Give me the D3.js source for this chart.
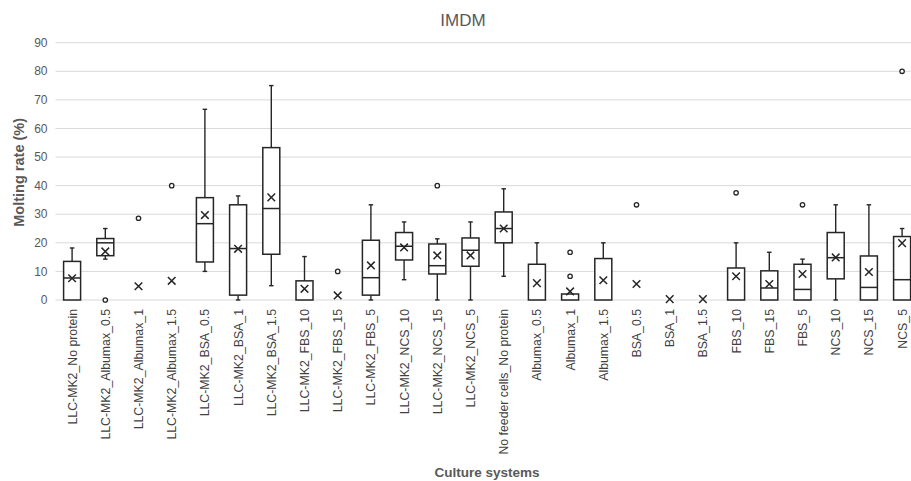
<!DOCTYPE html>
<html>
<head>
<meta charset="utf-8">
<script src="https://cdn.jsdelivr.net/npm/d3@7"></script>
<style>
  body { margin: 0; background: #fff; }
  text { font-family: "Liberation Sans", Arial, sans-serif; }
</style>
</head>
<body>
<div id="chart"></div>
<script>
// categories + box stats
var categories = [
  "LLC-MK2_No protein", "LLC-MK2_Albumax_0.5", "LLC-MK2_Albumax_1", "LLC-MK2_Albumax_1.5",
  "LLC-MK2_BSA_0.5", "LLC-MK2_BSA_1", "LLC-MK2_BSA_1.5", "LLC-MK2_FBS_10",
  "LLC-MK2_FBS_15", "LLC-MK2_FBS_5", "LLC-MK2_NCS_10", "LLC-MK2_NCS_15",
  "LLC-MK2_NCS_5", "No feeder cells_No protein", "Albumax_0.5", "Albumax_1",
  "Albumax_1.5", "BSA_0.5", "BSA_1", "BSA_1.5", "FBS_10", "FBS_15", "FBS_5",
  "NCS_10", "NCS_15", "NCS_5"
];
var whiskerLow  = [0, 14.3, 0, 0, 10, 0, 5, 0, 0, 0, 7.1, 0, 0, 8.3, 0, 0, 0, 0, 0, 0, 0, 0, 0, 0, 0, 0];
var q1          = [0, 15.5, 0, 0, 13.3, 1.7, 16, 0, 0, 1.7, 14, 9.1, 11.8, 20, 0, 0, 0, 0, 0, 0, 0, 0, 0, 7.4, 0, 0];
var median      = [7.7, 20, 0, 0, 26.7, 18, 32, 0, 0, 7.8, 18.8, 12, 17.4, 25, 0, 0, 0, 0, 0, 0, 0, 4.2, 3.7, 14.8, 4.4, 7.1];
var q3          = [13.5, 21.5, 0, 0, 35.8, 33.3, 53.3, 6.7, 0, 20.9, 23.6, 19.6, 21.7, 30.8, 12.5, 2.1, 14.5, 0, 0, 0, 11.2, 10.2, 12.5, 23.6, 15.4, 22.2];
var whiskerHigh = [18.2, 25, 0, 0, 66.7, 36.4, 75, 15.2, 0, 33.3, 27.3, 21.4, 27.3, 38.9, 20, 2.1, 20, 0, 0, 0, 20, 16.7, 14.3, 33.3, 33.3, 25];
var means       = [7.6, 17, 4.8, 6.7, 29.7, 17.9, 35.9, 3.9, 1.6, 12.1, 18.4, 15.6, 15.6, 25, 5.9, 3, 6.9, 5.6, 0.3, 0.3, 8.3, 5.6, 9.1, 14.9, 9.8, 19.9];
var outliers    = [[], [0], [28.6], [40], [], [], [], [], [10], [], [], [40], [], [], [], [8.3, 16.7], [], [33.3], [], [], [37.5], [], [33.3], [], [], [80]];
var yTicks = [0, 10, 20, 30, 40, 50, 60, 70, 80, 90];

var svgWidth = 911, svgHeight = 481;
var margin = {top: 42.7, left: 55.5, bottom: 181};
var width = 26 * 33.2;
var height = svgHeight - margin.top - margin.bottom;

var svg = d3.select("#chart").append("svg")
  .attr("width", svgWidth)
  .attr("height", svgHeight);

var x = d3.scaleBand().domain(categories).range([0, width]);
var y = d3.scaleLinear().domain([0, 90]).range([height, 0]);

var g = svg.append("g")
  .attr("transform", "translate(" + margin.left + "," + margin.top + ")");

// gridlines
g.selectAll(".grid").data(yTicks).enter().append("line")
  .attr("x1", 0).attr("x2", width)
  .attr("y1", d => y(d)).attr("y2", d => y(d))
  .attr("stroke", "#d9d9d9").attr("stroke-width", 1);

// y tick labels
g.selectAll(".ytick").data(yTicks).enter().append("text")
  .attr("x", -8).attr("y", d => y(d)).attr("dy", "0.35em")
  .attr("text-anchor", "end")
  .attr("font-size", 12).attr("fill", "#595959")
  .text(d => d);

// x labels
g.selectAll(".xlab").data(categories).enter().append("text")
  .attr("transform", d => "translate(" + (x(d) + x.bandwidth() / 2 + 4.5) + "," + (height + 9) + ") rotate(-90)")
  .attr("text-anchor", "end")
  .attr("font-size", 12.3).attr("fill", "#404040")
  .text(d => d);

var boxW = 17, capW = 4.5, stroke = "#262626";
var idx = d3.range(categories.length);
var cx = i => x(categories[i]) + x.bandwidth() / 2;

var box = g.selectAll(".box").data(idx).enter().append("g");

// whiskers
box.append("line")
  .attr("x1", cx).attr("x2", cx)
  .attr("y1", i => y(q3[i])).attr("y2", i => y(whiskerHigh[i]))
  .attr("stroke", stroke).attr("stroke-width", 1.4);
box.append("line")
  .attr("x1", cx).attr("x2", cx)
  .attr("y1", i => y(q1[i])).attr("y2", i => y(whiskerLow[i]))
  .attr("stroke", stroke).attr("stroke-width", 1.4);
box.filter(i => whiskerHigh[i] > q3[i]).append("line")
  .attr("x1", i => cx(i) - capW / 2).attr("x2", i => cx(i) + capW / 2)
  .attr("y1", i => y(whiskerHigh[i])).attr("y2", i => y(whiskerHigh[i]))
  .attr("stroke", stroke).attr("stroke-width", 1.4);
box.filter(i => whiskerLow[i] < q1[i]).append("line")
  .attr("x1", i => cx(i) - capW / 2).attr("x2", i => cx(i) + capW / 2)
  .attr("y1", i => y(whiskerLow[i])).attr("y2", i => y(whiskerLow[i]))
  .attr("stroke", stroke).attr("stroke-width", 1.4);

// boxes
box.append("rect")
  .attr("x", i => cx(i) - boxW / 2).attr("width", boxW)
  .attr("y", i => y(q3[i])).attr("height", i => y(q1[i]) - y(q3[i]))
  .attr("fill", "#fff")
  .attr("stroke", i => q3[i] === q1[i] ? "#a6a6a6" : stroke)
  .attr("stroke-width", 1.5);

// median
box.filter(i => median[i] > q1[i] && median[i] < q3[i]).append("line")
  .attr("x1", i => cx(i) - boxW / 2).attr("x2", i => cx(i) + boxW / 2)
  .attr("y1", i => y(median[i])).attr("y2", i => y(median[i]))
  .attr("stroke", stroke).attr("stroke-width", 1.5);

// mean markers
var mk = 3.8;
box.append("path")
  .attr("d", i => {
    var px = cx(i), py = y(means[i]);
    return "M" + (px - mk) + "," + (py - mk) + "L" + (px + mk) + "," + (py + mk) +
           "M" + (px - mk) + "," + (py + mk) + "L" + (px + mk) + "," + (py - mk);
  })
  .attr("stroke", stroke).attr("stroke-width", 1.5).attr("fill", "none");

// outliers
box.selectAll("circle").data(i => outliers[i].map(v => ({i: i, v: v}))).enter().append("circle")
  .attr("cx", d => cx(d.i)).attr("cy", d => y(d.v))
  .attr("r", 2.2)
  .attr("fill", "#fff").attr("stroke", stroke).attr("stroke-width", 1.3);

// titles
svg.append("text")
  .attr("x", 463).attr("y", 26)
  .attr("text-anchor", "middle")
  .attr("font-size", 17).attr("fill", "#595959")
  .text("IMDM");

svg.append("text")
  .attr("transform", "translate(24," + (margin.top + height / 2 + 1) + ") rotate(-90)")
  .attr("text-anchor", "middle")
  .attr("font-size", 14.5).attr("font-weight", "bold").attr("fill", "#595959")
  .text("Molting rate (%)");

svg.append("text")
  .attr("x", 487).attr("y", 477)
  .attr("text-anchor", "middle")
  .attr("font-size", 13.5).attr("font-weight", "bold").attr("fill", "#595959")
  .text("Culture systems");
</script>
</body>
</html>
